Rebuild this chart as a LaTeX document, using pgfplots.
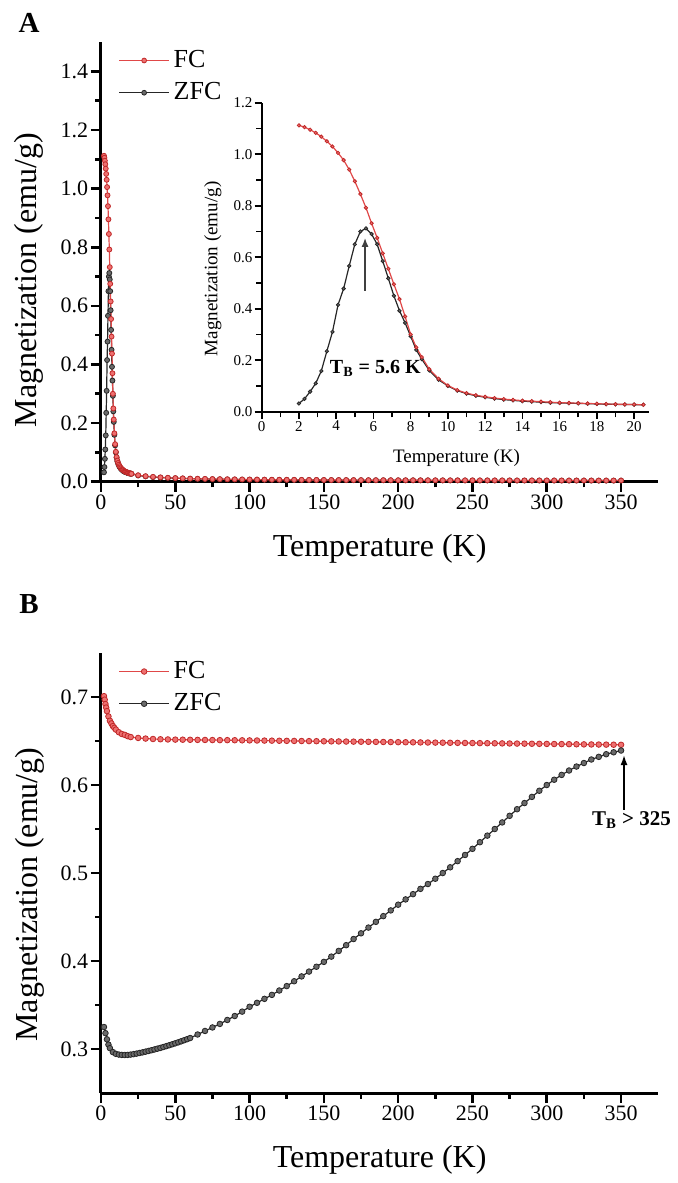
\documentclass[border=0pt]{standalone}
\usepackage{fontspec}
\setmainfont{Liberation Serif}
\usepackage{pgfplots}
\pgfplotsset{compat=1.18}
\usepackage{pgfplotstable}
\usetikzlibrary{arrows.meta}

\definecolor{fcred}{HTML}{E04848}
\definecolor{fcreddark}{HTML}{C02828}
\definecolor{fcredlight}{HTML}{EE7070}
\definecolor{zfcblack}{HTML}{262626}
\definecolor{zfcgray}{HTML}{6A6A6A}

% panel A: FC / ZFC, low T dense, tail every 5 K
\pgfplotstableread{
T fc zfc
2.0 1.112 0.032
2.3 1.105 0.050
2.6 1.095 0.078
2.9 1.083 0.110
3.2 1.068 0.158
3.5 1.050 0.235
3.8 1.030 0.310
4.1 1.005 0.415
4.4 0.977 0.478
4.7 0.940 0.566
5.0 0.895 0.650
5.3 0.845 0.700
5.6 0.792 0.712
5.9 0.732 0.690
6.2 0.675 0.650
6.5 0.615 0.585
6.8 0.555 0.518
7.1 0.495 0.450
7.4 0.437 0.392
7.7 0.370 0.345
8.0 0.300 0.293
8.3 0.250 0.240
8.6 0.212 0.204
9.0 0.165 0.160
9.5 0.128 0.124
10.0 0.102 0.100
10.5 0.084 0.082
11.0 0.072 0.070
11.5 0.064 0.062
12.0 0.058 0.056
12.5 0.053 0.051
13.0 0.049 0.047
13.5 0.046 0.044
14.0 0.043 0.041
14.5 0.041 0.039
15.0 0.039 0.037
15.5 0.037 0.035
16.0 0.035 0.034
16.5 0.034 0.033
17.0 0.033 0.032
17.5 0.032 0.031
18.0 0.031 0.030
18.5 0.030 0.029
19.0 0.029 0.0285
19.5 0.0285 0.028
20.0 0.028 0.0275
20.5 0.027 0.027
25 0.0221 0.0212
30 0.0189 0.0181
35 0.0165 0.0158
40 0.0148 0.0141
45 0.0134 0.0128
50 0.0124 0.0118
55 0.0115 0.0110
60 0.0107 0.0102
65 0.0101 0.0096
70 0.0096 0.0091
75 0.0091 0.0087
80 0.0087 0.0083
85 0.0083 0.0079
90 0.0080 0.0076
95 0.0077 0.0073
100 0.0075 0.0071
105 0.0073 0.0069
110 0.0070 0.0067
115 0.0068 0.0065
120 0.0067 0.0063
125 0.0065 0.0062
130 0.0064 0.0061
135 0.0062 0.0059
140 0.0061 0.0058
145 0.0060 0.0057
150 0.0059 0.0056
155 0.0058 0.0055
160 0.0057 0.0054
165 0.0056 0.0053
170 0.0055 0.0052
175 0.0054 0.0051
180 0.0053 0.0050
185 0.0052 0.0050
190 0.0052 0.0049
195 0.0051 0.0048
200 0.0050 0.0048
205 0.0050 0.0047
210 0.0049 0.0047
215 0.0049 0.0046
220 0.0048 0.0046
225 0.0048 0.0045
230 0.0047 0.0045
235 0.0047 0.0044
240 0.0046 0.0044
245 0.0046 0.0044
250 0.0046 0.0043
255 0.0045 0.0043
260 0.0045 0.0043
265 0.0044 0.0042
270 0.0044 0.0042
275 0.0044 0.0042
280 0.0043 0.0041
285 0.0043 0.0041
290 0.0043 0.0041
295 0.0043 0.0041
300 0.0042 0.0040
305 0.0042 0.0040
310 0.0042 0.0040
315 0.0041 0.0039
320 0.0041 0.0039
325 0.0041 0.0039
330 0.0041 0.0039
335 0.0040 0.0038
340 0.0040 0.0038
345 0.0040 0.0038
350 0.0040 0.0038
}\dataA

% panel B: FC
\pgfplotstableread{
T M
2 0.701
2.5 0.697
3 0.692
3.5 0.688
4 0.684
5 0.678
6 0.673
7 0.670
8 0.667
9 0.665
10 0.663
12 0.660
14 0.658
16 0.657
18 0.6555
20 0.6545
25 0.6535
30 0.6528
35 0.6523
40 0.6520
45 0.6518
50 0.6516
55 0.6515
60 0.6514
65 0.6513
70 0.6512
75 0.6511
80 0.6510
85 0.6510
90 0.6509
95 0.6508
100 0.6507
105 0.6506
110 0.6505
115 0.6504
120 0.6503
125 0.6502
130 0.6501
135 0.6500
140 0.6499
145 0.6498
150 0.6497
155 0.6496
160 0.6495
165 0.6494
170 0.6493
175 0.6492
180 0.6491
185 0.6490
190 0.6489
195 0.6488
200 0.6487
205 0.6486
210 0.6485
215 0.6484
220 0.6483
225 0.6482
230 0.6481
235 0.6480
240 0.6479
245 0.6478
250 0.6477
255 0.6476
260 0.6475
265 0.6474
270 0.6473
275 0.6472
280 0.6471
285 0.6470
290 0.6469
295 0.6468
300 0.6467
305 0.6466
310 0.6465
315 0.6464
320 0.6463
325 0.6462
330 0.6461
335 0.6460
340 0.6459
345 0.6458
350 0.6457
}\dataBfc

% panel B: ZFC
\pgfplotstableread{
T M
2 0.325
3 0.318
4 0.311
5 0.305
6 0.301
8 0.2965
10 0.2945
12 0.2937
14 0.2933
16 0.2932
18 0.2933
20 0.2937
22 0.2942
24 0.2948
26 0.2955
28 0.2962
30 0.2970
32 0.2978
34 0.2986
36 0.2995
38 0.3004
40 0.3013
42 0.3023
44 0.3033
46 0.3043
48 0.3054
50 0.3065
52 0.3076
54 0.3088
56 0.3100
58 0.3112
60 0.3125
65 0.3165
70 0.3205
75 0.3245
80 0.3285
85 0.3330
90 0.3375
95 0.3425
100 0.3480
105 0.3525
110 0.3570
115 0.3615
120 0.3665
125 0.3715
130 0.3770
135 0.3825
140 0.3880
145 0.3935
150 0.3990
155 0.4050
160 0.4115
165 0.4180
170 0.4250
175 0.4315
180 0.4380
185 0.4445
190 0.4510
195 0.4575
200 0.4640
205 0.4700
210 0.4760
215 0.4820
220 0.4875
225 0.4935
230 0.5000
235 0.5065
240 0.5135
245 0.5205
250 0.5275
255 0.5350
260 0.5425
265 0.5500
270 0.5575
275 0.5650
280 0.5725
285 0.5795
290 0.5865
295 0.5935
300 0.6000
305 0.6060
310 0.6115
315 0.6165
320 0.6210
325 0.6250
330 0.6290
335 0.6320
340 0.6350
345 0.6372
350 0.6392
}\dataBzfc

\pgfplotsset{
  magax/.style={
    scale only axis, width=278.6pt, height=220pt,
    axis x line*=bottom, axis y line*=left, axis line style={-, line width=1.5pt},
    tick align=outside, major tick length=5pt,
    every tick/.style={draw=black, line width=1.3pt},
    xmin=0, xmax=375, xtick={0,50,...,350}, minor x tick num=1,
    tick label style={font=\fontsize{11}{13}\selectfont, inner sep=1.2pt},
    label style={font=\fontsize{16}{19}\selectfont},
    yticklabel style={/pgf/number format/.cd, fixed, fixed zerofill, precision=1},
    /pgf/number format/assume math mode=true,
    xlabel={Temperature (K)}, ylabel={Magnetization (emu/g)},
    xlabel style={at={(axis description cs:0.5,-0.152)}, anchor=center},
    clip=false,
    legend cell align=left,
    legend style={draw=none, fill=none, font=\fontsize{13}{15}\selectfont,
      at={(axis description cs:0.02,1.0)}, anchor=north west, row sep=2pt},
    legend image code/.code={\draw[mark repeat=2,mark phase=2,##1]
      plot coordinates {(0pt,0pt) (12.5pt,0pt) (25pt,0pt)};},
  },
  fcline/.style={color=fcred, line width=0.6pt, mark=*, mark size=#1,
    mark options={draw=fcreddark, fill=fcredlight, line width=0.4pt}},
  zfcline/.style={color=zfcblack, line width=0.6pt, mark=*, mark size=#1,
    mark options={draw=zfcblack, fill=zfcgray, line width=0.4pt}},
}

\begin{document}
\begin{tikzpicture}
\path (0,0) rectangle (337.5pt,-591.5pt);
\node[font=\bfseries\fontsize{14.5}{17}\selectfont] at (14.5pt,-11.25pt) {A};
\node[font=\bfseries\fontsize{14.5}{17}\selectfont] at (14.5pt,-302pt) {B};

% ---- panel A
\begin{axis}[magax, at={(50.5pt,-240.85pt)}, anchor=south west, height=219.85pt,
  ymin=0, ymax=1.5, ytick={0,0.2,0.4,0.6,0.8,1.0,1.2,1.4}, minor y tick num=1,
  ylabel style={at={(axis description cs:-0.129,0.458)}, anchor=center}]
\addlegendimage{fcline=1.2pt}\addlegendentry{FC}
\addlegendimage{zfcline=1.2pt}\addlegendentry{ZFC}
\addplot[zfcline=1.25pt, forget plot] table[x=T, y=zfc] {\dataA};
\addplot[fcline=1.25pt, forget plot] table[x=T, y=fc] {\dataA};
\end{axis}

% ---- inset
\begin{axis}[scale only axis, at={(130.85pt,-205.85pt)}, anchor=south west,
  width=193.65pt, height=154.5pt,
  axis x line*=bottom, axis y line*=left, axis line style={-, line width=1pt},
  tick align=outside, major tick length=3.5pt,
  every tick/.style={draw=black, line width=0.8pt},
  xmin=0, xmax=20.8, ymin=0, ymax=1.2,
  xtick={0,2,...,20}, minor x tick num=1,
  ytick={0,0.2,0.4,0.6,0.8,1.0,1.2}, minor y tick num=1,
  tick label style={font=\fontsize{7.5}{9}\selectfont, inner sep=1pt},
  label style={font=\fontsize{9.5}{11}\selectfont},
  yticklabel style={/pgf/number format/.cd, fixed, fixed zerofill, precision=1},
  /pgf/number format/assume math mode=true,
  xlabel={Temperature (K)}, ylabel={Magnetization (emu/g)},
  xlabel style={at={(axis description cs:0.503,-0.150)}, anchor=center},
  ylabel style={at={(axis description cs:-0.126,0.462)}, anchor=center},
  clip=false]
\addplot[zfcline=0.85pt, restrict x to domain=0:21] table[x=T, y=zfc] {\dataA};
\addplot[fcline=0.85pt, restrict x to domain=0:21] table[x=T, y=fc] {\dataA};
\draw[-{Latex[length=4.5pt,width=3.5pt]}, color=black!75, line width=0.7pt]
  (axis cs:5.55,0.47) -- (axis cs:5.55,0.675);
\node[font=\bfseries\fontsize{10}{12}\selectfont] at (axis cs:6.1,0.168)
  {T\textsubscript{B} = 5.6 K};
\end{axis}

% ---- panel B
\begin{axis}[magax, at={(50.5pt,-546.5pt)}, anchor=south west,
  ymin=0.25, ymax=0.75, ytick={0.3,0.4,0.5,0.6,0.7}, minor y tick num=1,
  ylabel style={at={(axis description cs:-0.127,0.451)}, anchor=center}]
\addplot[fcline=1.4pt] table[x=T, y=M] {\dataBfc};
\addlegendentry{FC}
\addplot[zfcline=1.4pt] table[x=T, y=M] {\dataBzfc};
\addlegendentry{ZFC}
\draw[-{Latex[length=5pt,width=3.5pt]}, color=black, line width=0.7pt]
  (axis cs:352,0.572) -- (axis cs:352,0.634);
\node[font=\bfseries\fontsize{10.5}{12}\selectfont] at (axis cs:357,0.560)
  {T\textsubscript{B} > 325};
\end{axis}
\end{tikzpicture}
\end{document}
